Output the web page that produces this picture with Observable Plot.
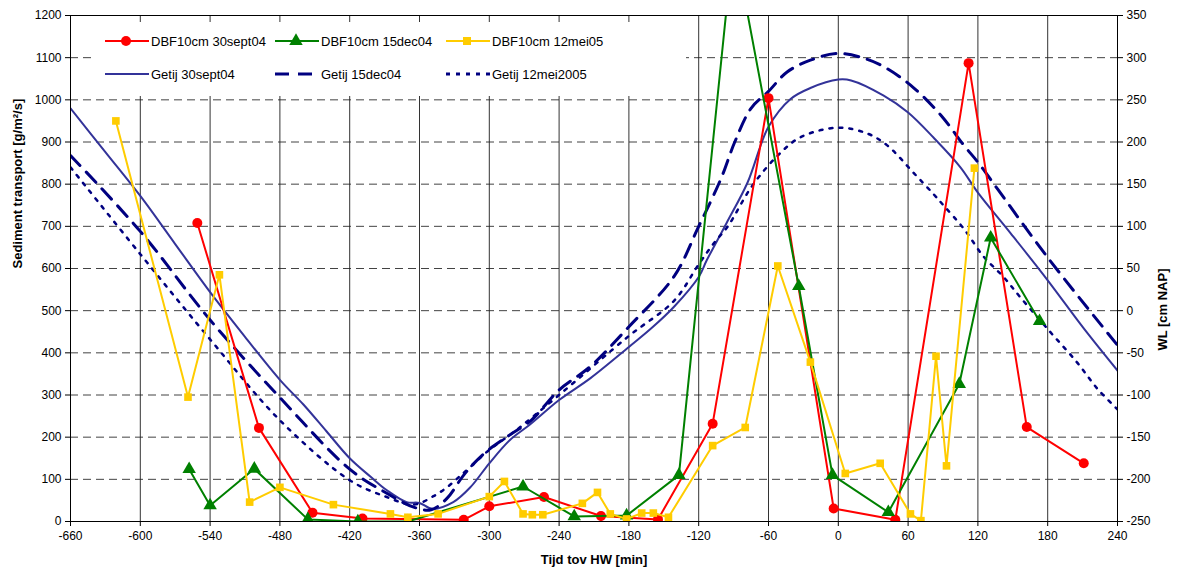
<!DOCTYPE html>
<html><head><meta charset="utf-8">
<script src="https://cdn.jsdelivr.net/npm/d3@7"></script>
<script src="https://cdn.jsdelivr.net/npm/@observablehq/plot@0.6"></script>
<style>
body{margin:0;background:#fff;font-family:"Liberation Sans",Arial,sans-serif;}
#wrap{position:relative;width:1177px;height:574px;}
#legend{position:absolute;left:92px;top:22px;background:#fff;}
</style></head><body><div id="wrap"></div>
<script>
// Sediment transport series [g/m²/s] (left axis)
const redX = [-551,-498,-452,-409,-322,-300,-253,-204,-155,-108,-60,-4,49,112,162,211];
const redY = [708,222,21,7,4,36,58,13,5,232,1004,31,4,1087,224,138];
const greenX = [-558,-540,-502,-456,-413,-370,-271,-227,-182,-137,-90,-34,-5,43,104,131,173];
const greenY = [124,38,125,5,0,0,83,12,14,110,1380,558,110,22,326,673,475];
const yellowX = [-621,-559,-532,-506,-480,-434,-385,-370,-344,-300,-287,-271,-263,-254,-220,-207,-196,-182,-169,-159,-146,-108,-80,-52,-24,6,36,62,71,84,93,117];
const yellowY = [950,295,585,46,81,40,18,10,18,59,95,18,16,16,43,69,18,6,20,20,10,180,223,606,378,114,138,18,2,392,132,838];

// Water level series [cm NAP] (right axis)
const getij30X = [-660,-630,-600,-570,-540,-510,-480,-460,-440,-420,-402,-388,-371,-360,-349,-331,-316,-300,-282,-265,-240,-213,-180,-160,-141,-120,-113,-96,-78,-60,-41,-24,0,11,39,60,82,105,120,148,180,211,240];
const getij30WL = [240,188,136,79,22,-31,-82,-111,-143,-175,-197,-213,-227,-228,-235,-227,-209,-181,-153,-135,-106,-80,-43,-20,5,40,60,104,152,218,251,264,274,273,255,235,205,170,140,92,36,-21,-71];
const getij15X = [-660,-600,-540,-480,-420,-390,-365,-350,-336,-322,-305,-282,-264,-240,-213,-180,-141,-120,-101,-89,-75,-60,-44,-24,0,25,42,65,88,108,120,137,180,240];
const getij15WL = [184,94,-11,-103,-188,-215,-233,-236,-222,-195,-170,-147,-130,-94,-66,-19,41,100,156,200,240,260,283,297,305,298,287,264,232,196,176,144,63,-41];
const getij12X = [-660,-600,-540,-480,-420,-390,-365,-348,-336,-326,-316,-300,-279,-240,-180,-141,-120,-107,-95,-74,-52,-32,0,25,42,65,82,91,108,125,142,157,182,205,223,240];
const getij12WL = [170,67,-34,-130,-201,-220,-230,-220,-209,-197,-185,-165,-144,-100,-30,12,55,80,100,148,184,206,217,210,196,163,138,124,97,64,40,15,-25,-61,-93,-117];

const xTicks = d3.range(-660, 241, 60);
const yTicks = d3.range(0, 1201, 100);

const toLeft = wl => (wl + 250) * 2;   // right axis [-250,350] mapped onto left [0,1200]
const fromLeft = v => v / 2 - 250;

const tab = (xs, ys) => xs.map((x, i) => ({x, y: ys[i]}));
const red = tab(redX, redY), green = tab(greenX, greenY), yellow = tab(yellowX, yellowY);
const tide = (xs, ws) => xs.map((x, i) => ({x, y: toLeft(ws[i])}));
const g30 = tide(getij30X, getij30WL), g15 = tide(getij15X, getij15WL), g12 = tide(getij12X, getij12WL);

const FONT = "Liberation Sans, Arial, sans-serif";

const chart = Plot.plot({
  width: 1177, height: 574,
  marginLeft: 70, marginRight: 60, marginTop: 15, marginBottom: 53,
  style: {fontFamily: FONT, fontSize: "12px", background: "#fff", color: "#000"},
  x: {domain: [-660, 240]},
  y: {domain: [0, 1200]},
  marks: [
    Plot.gridX(xTicks.slice(1, -1), {stroke: "#333", strokeOpacity: 1, strokeWidth: 1}),
    Plot.gridY(yTicks.slice(1, -1), {stroke: "#222", strokeOpacity: 0.85, strokeWidth: 1, strokeDasharray: "8,5"}),
    Plot.line(g30, {x: "x", y: "y", stroke: "#333399", strokeWidth: 2, curve: "catmull-rom", clip: true}),
    Plot.line(g15, {x: "x", y: "y", stroke: "#000080", strokeWidth: 3, strokeDasharray: "14,9", curve: "catmull-rom", clip: true}),
    Plot.line(g12, {x: "x", y: "y", stroke: "#000080", strokeWidth: 2.5, strokeDasharray: "3,7", curve: "catmull-rom", clip: true}),
    Plot.line(red, {x: "x", y: "y", stroke: "#ff0000", strokeWidth: 2, clip: true}),
    Plot.dot(red, {x: "x", y: "y", fill: "#ff0000", r: 5, symbol: "circle", clip: true}),
    Plot.line(green, {x: "x", y: "y", stroke: "#008000", strokeWidth: 2, clip: true}),
    Plot.dot(green, {x: "x", y: "y", fill: "#008000", r: 5, symbol: "triangle", clip: true}),
    Plot.line(yellow, {x: "x", y: "y", stroke: "#ffcc00", strokeWidth: 2, clip: true}),
    Plot.dot(yellow, {x: "x", y: "y", fill: "#ffcc00", r: 4.3, symbol: "square", clip: true}),
    Plot.frame({stroke: "#000", strokeWidth: 1}),
    Plot.axisX(xTicks, {tickSize: 5, tickPadding: 5, fontSize: 12, tickFormat: d => String(d), label: null}),
    Plot.axisY(yTicks, {anchor: "left", tickSize: 5, tickPadding: 4, fontSize: 12, tickFormat: d => String(d), label: null}),
    Plot.axisY(yTicks, {anchor: "right", tickSize: 5, tickPadding: 4, fontSize: 12, tickFormat: d => String(fromLeft(d)), label: null}),
    Plot.text(["Tijd tov HW [min]"], {text: d => d, frameAnchor: "bottom", dy: 42, fontWeight: "bold", fontSize: 13}),
    Plot.text(["Sediment transport [g/m²/s]"], {text: d => d, frameAnchor: "left", dx: -53, rotate: -90, fontWeight: "bold", fontSize: 13}),
    Plot.text(["WL [cm NAP]"], {text: d => d, frameAnchor: "right", dx: 45, rotate: -90, fontWeight: "bold", fontSize: 13})
  ]
});
const wrap = document.getElementById("wrap");
wrap.appendChild(chart);

// Legend overlay
const legendItems = [
  {label: "DBF10cm 30sept04", color: "#ff0000", w: 2, dash: null, symbol: d3.symbolCircle, size: Math.PI * 25, col: 0, row: 0},
  {label: "DBF10cm 15dec04", color: "#008000", w: 2, dash: null, symbol: d3.symbolTriangle, size: Math.PI * 25, col: 1, row: 0},
  {label: "DBF10cm 12mei05", color: "#ffcc00", w: 2, dash: null, symbol: d3.symbolSquare, size: 64, col: 2, row: 0},
  {label: "Getij 30sept04", color: "#333399", w: 2, dash: null, symbol: null, col: 0, row: 1},
  {label: "Getij 15dec04", color: "#000080", w: 3, dash: "14,9", symbol: null, col: 1, row: 1},
  {label: "Getij 12mei2005", color: "#000080", w: 3, dash: "4,6", symbol: null, col: 2, row: 1}
];
const colX = [13, 183, 354], rowY = [19, 52];
const leg = d3.select(wrap).append("div").attr("id", "legend")
  .append("svg").attr("width", 594).attr("height", 70)
  .style("font-family", FONT).style("font-size", "13px");
for (const it of legendItems) {
  const x0 = colX[it.col], y0 = rowY[it.row];
  const g = leg.append("g");
  g.append("line").attr("x1", x0).attr("x2", x0 + 44).attr("y1", y0).attr("y2", y0)
    .attr("stroke", it.color).attr("stroke-width", it.w).attr("stroke-dasharray", it.dash);
  if (it.symbol) g.append("path").attr("d", d3.symbol(it.symbol, it.size)())
    .attr("transform", `translate(${x0 + 21},${y0})`).attr("fill", it.color);
  g.append("text").attr("x", x0 + 46).attr("y", y0).attr("dy", "0.35em").text(it.label).attr("fill", "#000");
}
</script></body></html>
